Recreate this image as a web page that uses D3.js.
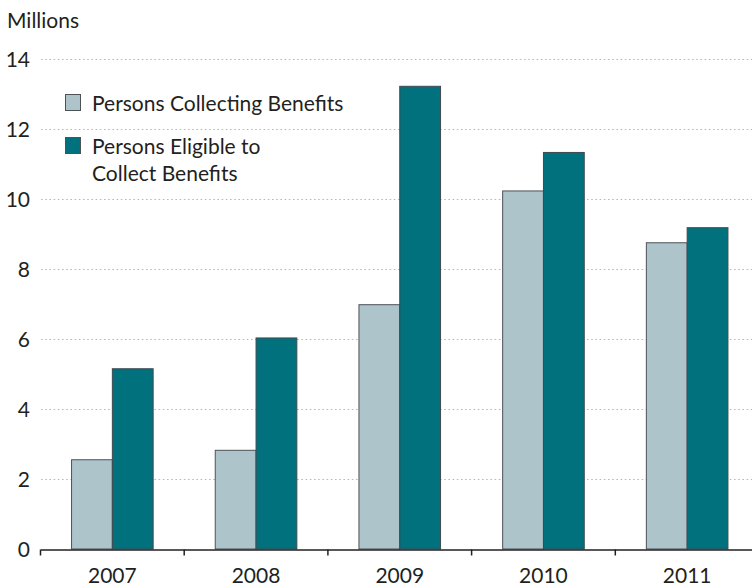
<!DOCTYPE html>
<html>
<head>
<meta charset="utf-8">
<script src="https://cdn.jsdelivr.net/npm/d3@7"></script>
<style>
  body { margin: 0; background: #fff; }
  text { font-family: Lato, "Open Sans", sans-serif; fill: #231f20; }
</style>
</head>
<body>
<svg class="chart"></svg>
<script>
const years = ["2007", "2008", "2009", "2010", "2011"]
const collecting = [2.55, 2.82, 6.98, 10.23, 8.75]
const eligible = [5.15, 6.03, 13.22, 11.33, 9.18]
const seriesNames = ["Persons Collecting Benefits", "Persons Eligible to|Collect Benefits"]
const seriesColors = ["#adc4cb", "#00717d"]
const yTicks = [0, 2, 4, 6, 8, 10, 12, 14]

const W = 752, H = 586
let svg = d3.select(".chart").attr("width", W).attr("height", H)

let x = d3.scaleBand()//bands per year
    .domain(years)
    .range([40.5, 40.5 + 143.7*5])
    .paddingInner(0).paddingOuter(0)
let y = d3.scaleLinear()
    .domain([0, 14])
    .range([549, 59])

// dotted gridlines
svg.append("g")
  .selectAll("line")
  .data(yTicks.filter(d => d > 0))
  .join("line")
    .attr("x1", 41).attr("x2", W)
    .attr("y1", d => y(d) + 0.5).attr("y2", d => y(d) + 0.5)
    .attr("stroke", "#b8b8b8")
    .attr("stroke-width", 1.2)
    .attr("stroke-dasharray", "1.6,2.6")

// y labels
svg.append("g")
  .selectAll("text")
  .data(yTicks)
  .join("text")
    .attr("x", 30).attr("y", d => y(d))
    .attr("dy", "0.36em")
    .attr("text-anchor", "end")
    .style("font-size", "21px")
    .text(d => d)

svg.append("text")
  .attr("x", 7).attr("y", 28)
  .style("font-size", "21px")
  .text("Millions")

// bars
const barW = 40.8
let groups = svg.append("g")
  .selectAll("g")
  .data(years)
  .join("g")
    .attr("transform", d => "translate(" + (x(d) + x.bandwidth()/2) + ",0)")

groups.append("rect")
  .attr("x", -barW)
  .attr("y", (d, i) => y(collecting[i]))
  .attr("width", barW)
  .attr("height", (d, i) => y(0) - y(collecting[i]))
  .attr("fill", seriesColors[0])
  .attr("stroke", "#4d5257").attr("stroke-width", 1)

groups.append("rect")
  .attr("x", 0)
  .attr("y", (d, i) => y(eligible[i]))
  .attr("width", barW)
  .attr("height", (d, i) => y(0) - y(eligible[i]))
  .attr("fill", seriesColors[1])
  .attr("stroke", "#3f4a50").attr("stroke-width", 1)

// x axis
let xAxis = d3.axisBottom(x).tickSize(0).tickFormat("")
let ax = svg.append("g")
  .attr("transform", "translate(0," + (y(0) + 0.5) + ")")
  .call(xAxis)
ax.select(".domain").attr("stroke", "#231f20").attr("stroke-width", 1.5)
ax.selectAll(".bound")
  .data(d3.range(years.length + 1))
  .join("line")
    .attr("class", "bound")
    .attr("x1", i => x.range()[0] + i*x.step())
    .attr("x2", i => x.range()[0] + i*x.step())
    .attr("y1", 0).attr("y2", 6)
    .attr("stroke", "#231f20").attr("stroke-width", 1.5)

svg.append("g")
  .selectAll("text")
  .data(years)
  .join("text")
    .attr("x", d => x(d) + x.bandwidth()/2)
    .attr("y", 583)
    .attr("text-anchor", "middle")
    .style("font-size", "21px")
    .text(d => d)

// legend
let legend = svg.append("g")
  .selectAll("g")
  .data(seriesNames)
  .join("g")
    .attr("transform", (d, i) => "translate(65," + (94 + i*43) + ")")
legend.append("rect")
  .attr("x", 0.5).attr("y", 0.5)
  .attr("width", 15).attr("height", 16)
  .attr("fill", (d, i) => seriesColors[i])
  .attr("stroke", "#4d5257").attr("stroke-width", 1)
legend.append("text")
  .attr("x", 27).attr("y", 17)
  .style("font-size", "21px")
  .selectAll("tspan")
  .data(d => d.split("|"))
  .join("tspan")
    .attr("x", 27)
    .attr("dy", (d, i) => i ? 27 : 0)
    .text(d => d)
</script>
</body>
</html>
